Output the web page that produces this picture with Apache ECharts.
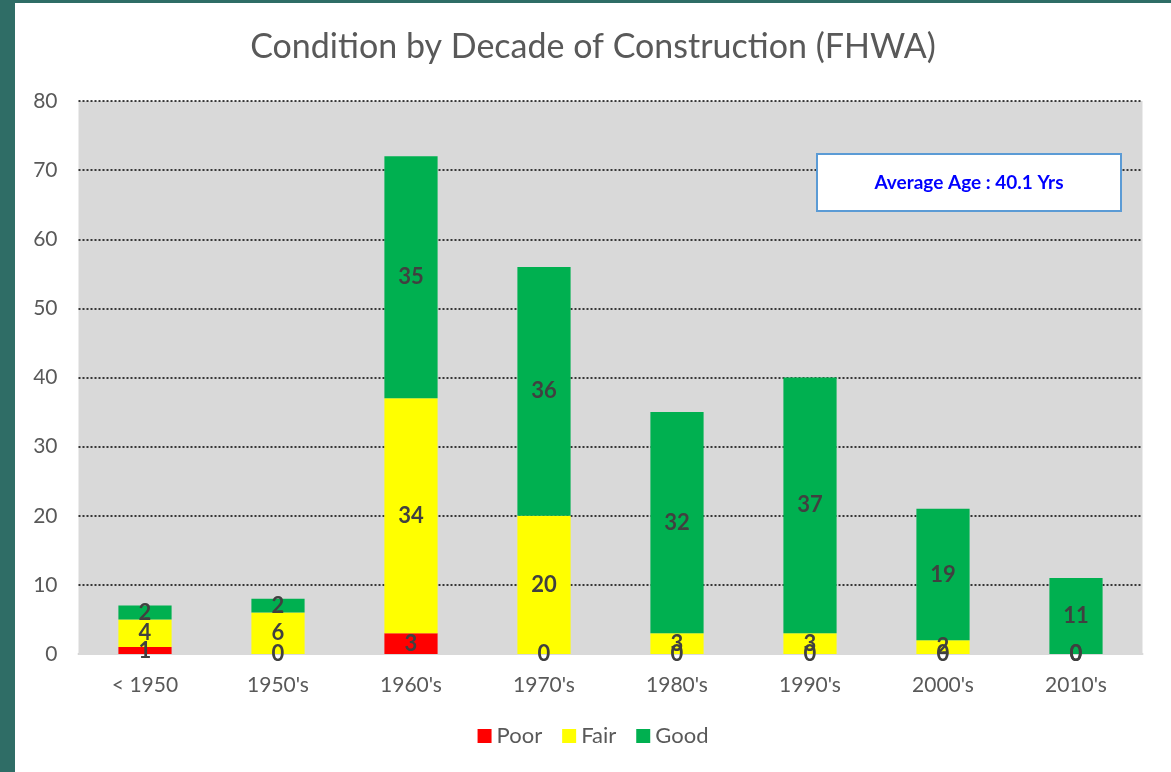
<!DOCTYPE html>
<html><head><meta charset="utf-8">
<script src="https://cdn.jsdelivr.net/npm/echarts@6/dist/echarts.min.js"></script>
<style>
html,body{margin:0;padding:0;width:1171px;height:772px;background:#2f6d66;overflow:hidden;}
#c{position:absolute;left:15px;top:3px;width:1156px;height:769px;background:#ffffff;}
</style></head><body>
<div id="c"></div>
<script>
var categories = ["< 1950", "1950's", "1960's", "1970's", "1980's", "1990's", "2000's", "2010's"];
var poor = [1, 0, 3, 0, 0, 0, 0, 0];
var fair = [4, 6, 34, 20, 3, 3, 2, 0];
var good = [2, 2, 35, 36, 32, 37, 19, 11];
var yTicks = {min: 0, max: 80, interval: 10};
var titleText = "Condition by Decade of Construction (FHWA)";
var noteText = "Average Age : 40.1 Yrs";

var FONT = "Lato, 'Open Sans', sans-serif";
var chart = echarts.init(document.getElementById('c'), null, {renderer: 'canvas'});
var lbl = {show: true, position: 'inside', color: '#404040', fontWeight: 'bold', fontSize: 22, fontFamily: FONT};
function mk(name, data, color) {
  return {name: name, type: 'bar', stack: 'all', data: data, barWidth: '40%',
    itemStyle: {color: color}, label: lbl, emphasis: {disabled: true}};
}
chart.setOption({
  animation: false,
  textStyle: {fontFamily: FONT},
  title: {text: titleText, left: 'center', top: 22,
    textStyle: {fontSize: 34, fontWeight: 'normal', color: '#595959', fontFamily: FONT}},
  grid: {left: 63.5, right: 28.5, top: 98, bottom: 118, show: true, backgroundColor: '#d9d9d9', borderWidth: 0},
  legend: {bottom: 20, left: 'center', icon: 'rect', itemWidth: 14, itemHeight: 14, itemGap: 20,
    textStyle: {fontSize: 22, color: '#595959', fontFamily: FONT},
    data: ['Poor', 'Fair', 'Good']},
  xAxis: {type: 'category', data: categories,
    axisLine: {show: true, lineStyle: {color: '#d9d9d9', width: 2}},
    axisTick: {show: false},
    axisLabel: {fontSize: 21, color: '#595959', margin: 21, fontFamily: FONT}},
  yAxis: {type: 'value', min: yTicks.min, max: yTicks.max, interval: yTicks.interval,
    axisLine: {show: false}, axisTick: {show: false},
    axisLabel: {fontSize: 21, color: '#595959', margin: 21, fontFamily: FONT},
    splitLine: {show: true, lineStyle: {color: '#000000', type: [2, 2], width: 1.5}}},
  series: [mk('Poor', poor, '#ff0000'), mk('Fair', fair, '#ffff00'), mk('Good', good, '#00b050')],
  graphic: [{type: 'group', left: 801, top: 150, z: 100, children: [
    {type: 'rect', z: 100, shape: {x: 0, y: 0, width: 304, height: 57},
      style: {fill: '#ffffff', stroke: '#5b9bd5', lineWidth: 2}},
    {type: 'text', z: 101, x: 152, y: 29, style: {text: noteText, fill: '#0000ff', fontWeight: 'bold', fontSize: 19,
      fontFamily: FONT, align: 'center', verticalAlign: 'middle'}}
  ]}]
});
</script></body></html>
